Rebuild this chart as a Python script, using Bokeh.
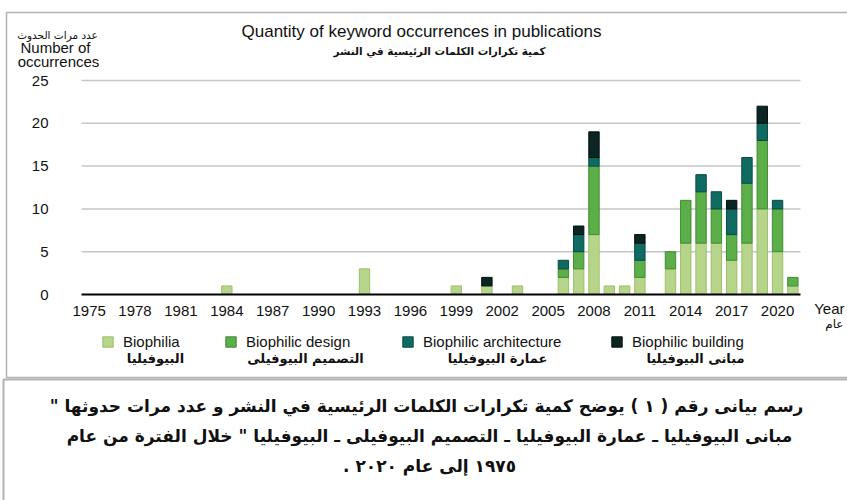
import numpy as np
from bokeh.plotting import figure
from bokeh.models import (Label, BoxAnnotation, Legend, LegendItem, FixedTicker,
                          Range1d, LinearAxis)
from bokeh.embed import file_html
from bokeh.resources import INLINE

# ---------------- data ----------------
years = [1984, 1993, 1999, 2001, 2003, 2006, 2007, 2008, 2009, 2010,
         2011, 2013, 2014, 2015, 2016, 2017, 2018, 2019, 2020, 2021]
biophilia = [1, 3, 1, 1, 1, 2, 3, 7, 1, 1, 2, 3, 6, 6, 6, 4, 6, 10, 5, 1]
biophilic_design = [0, 0, 0, 0, 0, 1, 2, 8, 0, 0, 2, 2, 5, 6, 4, 3, 7, 8, 5, 1]
biophilic_architecture = [0, 0, 0, 0, 0, 1, 2, 1, 0, 0, 2, 0, 0, 2, 2, 3, 3, 2, 1, 0]
biophilic_building = [0, 0, 0, 1, 0, 0, 1, 3, 0, 0, 1, 0, 0, 0, 0, 1, 0, 2, 0, 0]

series_en = ["Biophilia", "Biophilic design", "Biophilic architecture", "Biophilic building"]
series_ar = ["البيوفيليا", "التصميم البيوفيلى", "عمارة البيوفيليا", "مبانى البيوفيليا"]
x_tick_years = [1975, 1978, 1981, 1984, 1987, 1990, 1993, 1996, 1999,
                2002, 2005, 2008, 2011, 2014, 2017, 2020]
y_ticks = [0, 5, 10, 15, 20, 25]

title_en = "Quantity of keyword occurrences in publications"
title_ar = "كمية تكرارات الكلمات الرئيسية في النشر"
ylab_ar = "عدد مرات الحدوث"
ylab_en1 = "Number of"
ylab_en2 = "occurrences"
xlab_en = "Year"
xlab_ar = "عام"
RLM = "\u200f"
caption_lines = [
    'رسم بيانى رقم ( ١ )  يوضح كمية تكرارات الكلمات الرئيسية في النشر و عدد مرات حدوثها "' + RLM,
    'مبانى البيوفيليا ـ عمارة البيوفيليا ـ التصميم البيوفيلى ـ البيوفيليا " خلال الفترة من عام',
    '١٩٧٥ إلى عام ٢٠٢٠ .' + RLM,
]

fills = ["#b7d58a", "#5cae48", "#0f6b62", "#0b2622"]
lines = ["#9cc06c", "#3f8c33", "#0a4a43", "#040f0d"]

# ---------------- layout constants (pixels) ----------------
W, H = 847, 500
plot_left, plot_right = 81, 800      # plot area, px from canvas left
plot_top, plot_bottom = 80, 294      # px from canvas top
x0, x1 = 1974.5, 2021.5              # visible year span of the plot area
y0, y1 = 0, 25

ppx = (plot_right - plot_left) / (x1 - x0)
ppy = (plot_bottom - plot_top) / (y1 - y0)
xr = Range1d(x0 - plot_left / ppx, x1 + (W - plot_right) / ppx)
yr = Range1d(y0 - (H - plot_bottom) / ppy, y1 + plot_top / ppy)

p = figure(width=W, height=H, output_backend="svg", toolbar_location=None,
           x_range=xr, y_range=yr, x_axis_location=None, y_axis_location=None,
           min_border=0)
p.outline_line_color = None
p.xgrid.visible = False
p.ygrid.visible = False

# grid lines limited to the plot area
p.segment(x0=[x0] * (len(y_ticks) - 1), x1=[x1] * (len(y_ticks) - 1),
          y0=y_ticks[1:], y1=y_ticks[1:], line_color="#c6c6c6", line_width=1.5,
          level="underlay")

# stacked bars
stack = [np.array(biophilia), np.array(biophilic_design),
         np.array(biophilic_architecture), np.array(biophilic_building)]
yrs = np.array(years)
bottom = np.zeros(len(years))
renderers = []
for vals, fc, lc in zip(stack, fills, lines):
    m = vals > 0
    r = p.vbar(x=yrs[m], bottom=bottom[m], top=(bottom + vals)[m], width=0.68,
               fill_color=fc, line_color=lc, line_width=1)
    renderers.append(r)
    bottom = bottom + vals

# axes drawn at fixed data locations
xaxis = LinearAxis(fixed_location=y0, bounds=(x0, x1),
                   ticker=FixedTicker(ticks=x_tick_years))
xaxis.axis_line_color = "black"
xaxis.axis_line_width = 2
xaxis.major_tick_line_color = None
xaxis.minor_tick_line_color = None
xaxis.major_label_standoff = 5
xaxis.major_label_text_font = "Liberation Sans"
xaxis.major_label_text_font_size = "15px"
xaxis.major_label_text_color = "#111111"
p.add_layout(xaxis, "below")

yaxis = LinearAxis(fixed_location=x0, bounds=(y0, y1),
                   ticker=FixedTicker(ticks=y_ticks))
yaxis.axis_line_color = None
yaxis.major_tick_line_color = None
yaxis.minor_tick_line_color = None
yaxis.major_label_standoff = 27
yaxis.major_label_text_font = "Liberation Sans"
yaxis.major_label_text_font_size = "15px"
yaxis.major_label_text_color = "#111111"
p.add_layout(yaxis, "left")

# legend (one per item so positions match)
leg_x = [101, 224, 401, 610]
for name, r, lx in zip(series_en, renderers, leg_x):
    leg = Legend(items=[LegendItem(label=name, renderers=[r])], location=(lx, 150),
                 orientation="horizontal", padding=0, margin=0, spacing=0,
                 glyph_width=13, glyph_height=13, label_height=13, label_standoff=9,
                 label_text_font="Liberation Sans", label_text_font_size="15px",
                 label_text_color="#111111",
                 background_fill_alpha=0, border_line_alpha=0)
    p.add_layout(leg)

def lab(x, y, t, size, font="Liberation Sans", style="normal", align="center"):
    p.add_layout(Label(x=x, y=y, x_units="screen", y_units="screen", text=t,
                       text_align=align, text_baseline="middle", text_font=font,
                       text_font_size=size, text_font_style=style,
                       text_color="#111111"))

ar_x = [155, 305, 497, 695]
for t, ax in zip(series_ar, ar_x):
    lab(ax, 142, t, "13px", font="DejaVu Sans", style="bold")

lab(421, 469, title_en, "17px")
lab(439, 450, title_ar, "10.5px", font="DejaVu Sans", style="bold")
lab(57, 466, ylab_ar, "10.5px", font="DejaVu Sans")
lab(55, 453, ylab_en1, "15px")
lab(58, 439, ylab_en2, "15px")
lab(844, 192, xlab_en, "15px", align="right")
lab(843, 177, xlab_ar, "12px", font="DejaVu Sans", align="right")

for i, t in enumerate(caption_lines):
    lab(429, 95 - 30 * i, t, "17px", font="DejaVu Sans", style="bold")

# borders
p.add_layout(BoxAnnotation(left=6, right=860, top=488, bottom=123,
                           left_units="screen", right_units="screen",
                           top_units="screen", bottom_units="screen",
                           fill_alpha=0, line_color="black", line_width=1.5))
p.add_layout(BoxAnnotation(left=3, right=860, top=121, bottom=-20,
                           left_units="screen", right_units="screen",
                           top_units="screen", bottom_units="screen",
                           fill_alpha=0, line_color="black", line_width=2))

open("out.html", "w").write(file_html(p, INLINE))
